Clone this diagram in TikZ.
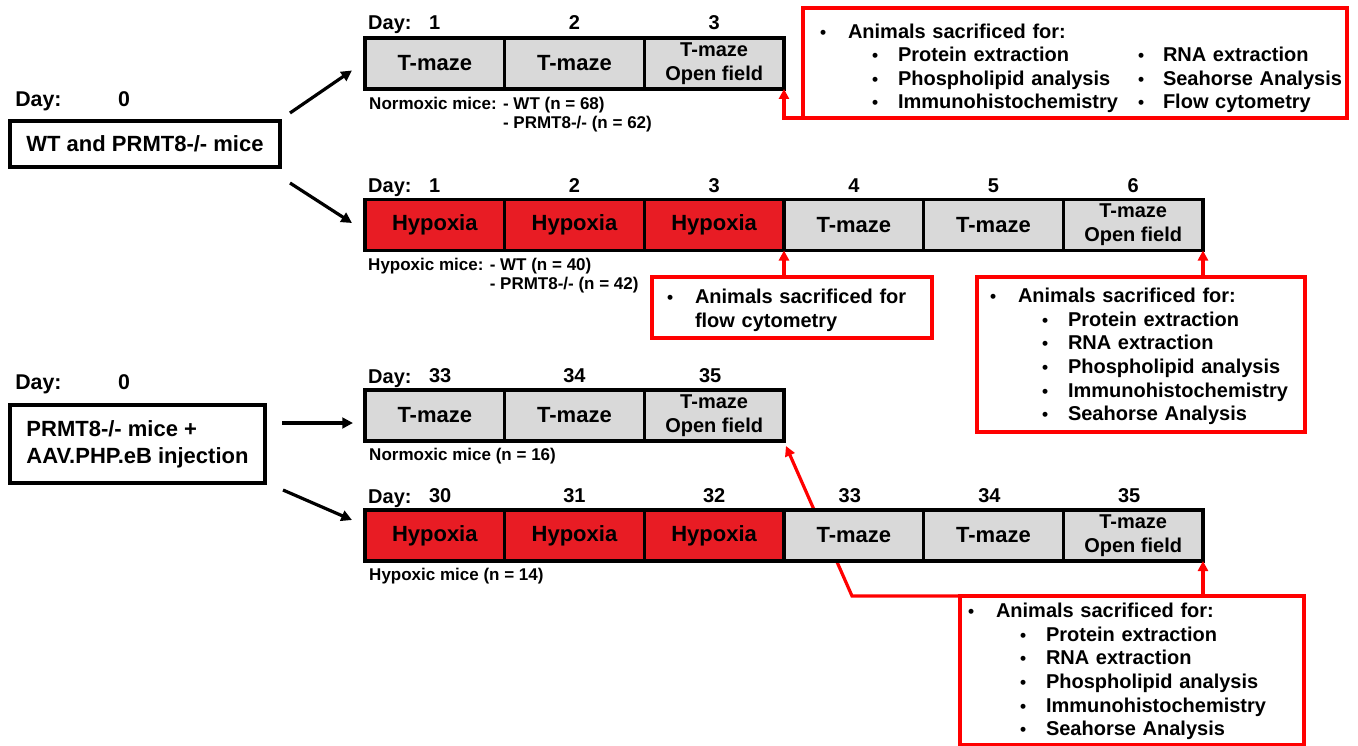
\documentclass[tikz,border=0pt]{standalone}
\usepackage{fontspec}
\setmainfont{Liberation Sans}
\usetikzlibrary{positioning,arrows.meta,backgrounds}
\definecolor{boxgray}{RGB}{217,217,217}
\definecolor{hypred}{RGB}{232,28,36}
\definecolor{notered}{RGB}{255,0,0}
\newcommand{\dotmark}{{\fontsize{13}{13}\selectfont\textbullet}}
\newcommand{\topbullet}[1]{\makebox[21pt][l]{\dotmark}#1}
\newcommand{\subbullet}[1]{\mbox{\hspace*{39pt}\makebox[19.5pt][l]{\dotmark}#1}}

\begin{document}
\begin{tikzpicture}[
      x=0.75pt, y=-0.75pt,
      stage/.style={rectangle, draw=black, line width=2.4pt, fill=boxgray,
                    minimum width=104.75pt, minimum height=38.25pt,
                    inner sep=0pt, outer sep=0pt, align=center,
                    font=\bfseries\fontsize{16.5}{19}\selectfont},
      twotest/.style={stage, font=\bfseries\fontsize{15}{18}\selectfont},
      hypo/.style={stage, fill=hypred},
      start/.style={rectangle, draw=black, line width=2.4pt, align=left,
                    anchor=north west, inner xsep=8pt, outer sep=0pt,
                    font=\bfseries\fontsize{16.5}{20}\selectfont},
      daylbl/.style={inner sep=0pt, font=\bfseries\fontsize{15}{18}\selectfont},
      daybig/.style={inner sep=0pt, font=\bfseries\fontsize{16}{19}\selectfont},
      cohort/.style={inner sep=0pt, anchor=north west, align=left,
                     font=\bfseries\fontsize{12.75}{14.25}\selectfont},
      note/.style={rectangle, draw=notered, line width=2.4pt, fill=white,
                   anchor=north west, align=left, outer sep=0pt,
                   font=\bfseries\fontsize{15}{17.7}\selectfont},
      blkarrow/.style={-{Triangle[length=8pt,width=8pt]}, line width=2.4pt},
      redarrow/.style={draw=notered, line width=2.4pt, -{Triangle[length=7.5pt,width=7.5pt]}}
    ]
    \useasboundingbox (0,0) rectangle (1358,745);

    % --- Experiment 1: WT and PRMT8-/- ---
    \node[start, minimum width=202.5pt, minimum height=34.5pt] (wtmice) at (10,121) {WT and PRMT8-/- mice};
    \node[daybig, anchor=base west] at ([shift={(5,-14)}]wtmice.north west) {Day:};
    \node[daybig, anchor=base] at ([shift={(114,-14)}]wtmice.north west) {0};

    % normoxic row
    \node[stage] (n1) at (434.8,63.5) {T-maze};
    \node[stage, right=0pt of n1] (n2) {T-maze};
    \node[twotest, right=0pt of n2] (n3) {T-maze\\Open field};
    \node[daylbl, anchor=base west] at ([shift={(3,-8)}]n1.north west) {Day:};
    \node[daylbl, above=6pt of n1] {1};
    \node[daylbl, above=6pt of n2] {2};
    \node[daylbl, above=6pt of n3] {3};
    \node[cohort] at ([shift={(4,7)}]n1.south west)
      {\begin{tabular}{@{}l@{ }l}Normoxic mice: & - WT (n = 68)\\ & - PRMT8-/- (n = 62)\end{tabular}};

    % hypoxic row
    \node[hypo] (h1) at (434.8,225) {Hypoxia};
    \node[hypo, right=0pt of h1] (h2) {Hypoxia};
    \node[hypo, right=0pt of h2] (h3) {Hypoxia};
    \node[stage, right=0pt of h3] (h4) {T-maze};
    \node[stage, right=0pt of h4] (h5) {T-maze};
    \node[twotest, right=0pt of h5] (h6) {T-maze\\Open field};
    \node[daylbl, anchor=base west] at ([shift={(3,-7)}]h1.north west) {Day:};
    \node[daylbl, above=5pt of h1] {1};
    \node[daylbl, above=5pt of h2] {2};
    \node[daylbl, above=5pt of h3] {3};
    \node[daylbl, above=5pt of h4] {4};
    \node[daylbl, above=5pt of h5] {5};
    \node[daylbl, above=5pt of h6] {6};
    \node[cohort] at ([shift={(3,6)}]h1.south west)
      {\begin{tabular}{@{}l@{ }l}Hypoxic mice: & - WT (n = 40)\\ & - PRMT8-/- (n = 42)\end{tabular}};

    \draw[blkarrow] ([shift={(10,-31)}]wtmice.east) -- ([shift={(-13,7)}]n1.west);
    \draw[blkarrow] ([shift={(10,39)}]wtmice.east) -- ([shift={(-13,-2)}]h1.west);

    % sacrifice notes
    \node[note, text width=382.5pt, inner xsep=12.75pt, minimum height=82.5pt] (note1) at (803,8)
      {\rule{0pt}{19pt}\topbullet{Animals sacrificed for:}\\
       \subbullet{\makebox[180pt][l]{Protein extraction}\makebox[18.75pt][l]{\dotmark}RNA extraction}\\
       \subbullet{\makebox[180pt][l]{Phospholipid analysis}\makebox[18.75pt][l]{\dotmark}Seahorse Analysis}\\
       \subbullet{\makebox[180pt][l]{Immunohistochemistry}\makebox[18.75pt][l]{\dotmark}Flow cytometry}};
    \node[note, text width=187.5pt, inner xsep=11.25pt, minimum height=45.75pt] (note2) at (652,277)
      {\rule{0pt}{15pt}\topbullet{Animals sacrificed for}\\ \hspace*{21pt}flow cytometry};
    \node[note, text width=226.5pt, inner xsep=9.75pt, minimum height=116.25pt] (note3) at (977,277)
      {\rule{0pt}{14pt}\topbullet{Animals sacrificed for:}\\
       \subbullet{Protein extraction}\\
       \subbullet{RNA extraction}\\
       \subbullet{Phospholipid analysis}\\
       \subbullet{Immunohistochemistry}\\
       \subbullet{Seahorse Analysis}};

    \draw[redarrow] (note1.south west) -| (n3.south east);
    \draw[redarrow] (h3.south east |- note2.north) -- (h3.south east);
    \draw[redarrow] (h6.south east |- note3.north) -- (h6.south east);

    % --- Experiment 2: AAV.PHP.eB injection ---
    \node[start, minimum width=191.25pt, minimum height=58.5pt] (aavmice) at (10,405) {PRMT8-/- mice +\\AAV.PHP.eB injection};
    \node[daybig, anchor=base west] at ([shift={(5,-16)}]aavmice.north west) {Day:};
    \node[daybig, anchor=base] at ([shift={(114,-16)}]aavmice.north west) {0};

    % normoxic row
    \node[stage] (an1) at (434.8,415.5) {T-maze};
    \node[stage, right=0pt of an1] (an2) {T-maze};
    \node[twotest, right=0pt of an2] (an3) {T-maze\\Open field};
    \node[daylbl, anchor=base west] at ([shift={(3,-7)}]an1.north west) {Day:};
    \node[daylbl, above=5pt of an1, xshift=4pt] {33};
    \node[daylbl, above=5pt of an2] {34};
    \node[daylbl, above=5pt of an3, xshift=-3pt] {35};
    \node[cohort] at ([shift={(4,7)}]an1.south west) {Normoxic mice (n = 16)};

    % hypoxic row
    \node[hypo] (ah1) at (434.8,535.5) {Hypoxia};
    \node[hypo, right=0pt of ah1] (ah2) {Hypoxia};
    \node[hypo, right=0pt of ah2] (ah3) {Hypoxia};
    \node[stage, right=0pt of ah3] (ah4) {T-maze};
    \node[stage, right=0pt of ah4] (ah5) {T-maze};
    \node[twotest, right=0pt of ah5] (ah6) {T-maze\\Open field};
    \node[daylbl, anchor=base west] at ([shift={(3,-7)}]ah1.north west) {Day:};
    \node[daylbl, above=5pt of ah1, xshift=4pt] {30};
    \node[daylbl, above=5pt of ah2] {31};
    \node[daylbl, above=5pt of ah3] {32};
    \node[daylbl, above=5pt of ah4, xshift=-3pt] {33};
    \node[daylbl, above=5pt of ah5, xshift=-3pt] {34};
    \node[daylbl, above=5pt of ah6, xshift=-3pt] {35};
    \node[cohort] at ([shift={(4,7)}]ah1.south west) {Hypoxic mice (n = 14)};

    \draw[blkarrow] ([shift={(17,-21)}]aavmice.east) -- ([shift={(-12,7.5)}]an1.west);
    \draw[blkarrow] ([shift={(18,46)}]aavmice.east) -- ([shift={(-13,-15.5)}]ah1.west);

    \node[note, text width=246pt, inner xsep=6pt, minimum height=110.25pt] (note4) at (960,596)
      {\rule{0pt}{13pt}\topbullet{Animals sacrificed for:}\\
       \subbullet{Protein extraction}\\
       \subbullet{RNA extraction}\\
       \subbullet{Phospholipid analysis}\\
       \subbullet{Immunohistochemistry}\\
       \subbullet{Seahorse Analysis}};

    \draw[redarrow] (ah6.south east |- note4.north) -- (ah6.south east);
    \begin{pgfonlayer}{background}
      \draw[redarrow] (note4.north west) -- ++(-108,0) -- ([shift={(2,5)}]an3.south east);
    \end{pgfonlayer}
  \end{tikzpicture}
\end{document}
